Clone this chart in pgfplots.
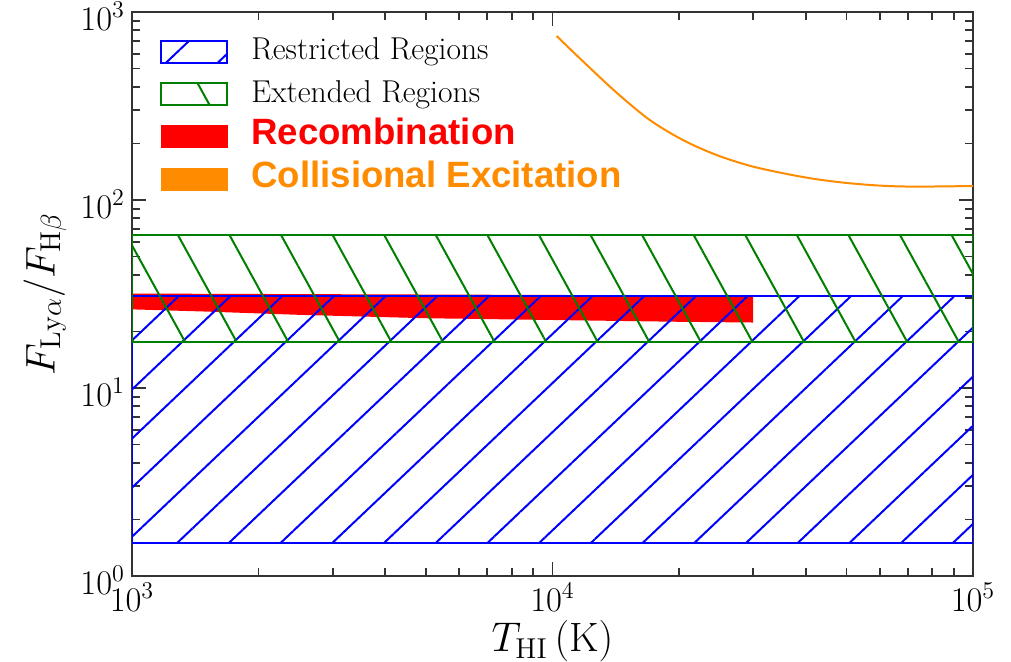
\documentclass[border=0pt]{standalone}
\usepackage{fontspec}
\newfontfamily\arialfont{Liberation Sans}
\usepackage{pgfplots}
\pgfplotsset{compat=1.18}
\usetikzlibrary{patterns.meta}
\definecolor{mplblue}{rgb}{0,0,1}
\definecolor{mplgreen}{rgb}{0,0.5,0}
\definecolor{orng}{rgb}{1,0.549,0}
\tikzset{
  bluehatch/.style={pattern={Lines[angle=43.5, distance=17.8pt, line width=1pt]}, pattern color=mplblue},
  greenhatch/.style={pattern={Lines[angle=118.8, distance=22.6pt, line width=1pt]}, pattern color=mplgreen},
}
\begin{document}
\begin{tikzpicture}
\useasboundingbox (-66pt,-43pt) rectangle (439.5pt,288pt);
\begin{axis}[
  at={(0,0)}, anchor=south west, scale only axis,
  width=420.5pt, height=282pt,
  xmode=log, ymode=log,
  xmin=1e3, xmax=1e5, ymin=1, ymax=1e3,
  axis line style={line width=1pt, black!80},
  major tick length=7pt, minor tick length=4pt,
  every tick/.style={black!80, line width=0.9pt},
  tick label style={font=\fontsize{18}{20}\selectfont},
  yticklabel style={yshift=-2pt},
  label style={font=\fontsize{20.5}{24}\selectfont},
  xlabel={$T_{\mathrm{HI}}\,(\mathrm{K})$},
  xlabel style={yshift=2pt},
  ylabel={$F_{\mathrm{Ly}\alpha}/F_{\mathrm{H}\beta}$},
  legend cell align=left,
  legend style={at={(axis description cs:0.0333,0.962)}, anchor=north west,
    draw=none, fill=none, inner sep=0pt, row sep=3.2pt,
    font=\fontsize{15.8}{18}\selectfont,
    nodes={inner sep=1pt, text height=12pt, text depth=4pt},
    /tikz/every odd column/.append style={column sep=10.5pt}},
  legend image code/.code={\draw[#1] (0pt,-5.5pt) rectangle (33pt,5.5pt);},
]
\addlegendimage{draw=mplblue, line width=1pt, bluehatch}
\addlegendentry{Restricted Regions}
\addlegendimage{draw=mplgreen, line width=1pt, greenhatch}
\addlegendentry{Extended Regions}
\addlegendimage{legend image code/.code={\fill[red] (0pt,-5.5pt) rectangle (33pt,5.5pt);}}
\addlegendentry{\textcolor{red}{\fontsize{18.3}{20}\selectfont\arialfont\bfseries Recombination}}
\addlegendimage{legend image code/.code={\fill[orng] (0pt,-5.5pt) rectangle (33pt,5.5pt);}}
\addlegendentry{\textcolor{orng}{\fontsize{18.3}{20}\selectfont\arialfont\bfseries Collisional Excitation}}

\addplot[forget plot, fill=red, draw=none] coordinates {
 (1000,31.8) (30000,31.0) (30000,22.3) (20000,22.5) (10000,23.0) (5000,23.5) (2500,24.5) (1500,25.5) (1000,26.2)} --cycle;
\addplot[forget plot, draw=mplblue, line width=1pt, bluehatch] coordinates {
 (1000,1.5) (100000,1.5) (100000,31) (1000,31)} --cycle;
\addplot[forget plot, draw=mplgreen, line width=1pt, greenhatch] coordinates {
 (1000,17.6) (100000,17.6) (100000,65) (1000,65)} --cycle;
\addplot[forget plot, orng, line width=1pt, smooth, tension=0.5] coordinates {
 (10230,745) (11840,544) (14210,372) (17050,266) (20460,208) (24550,173.5) (29490,152) (35400,138.7) (42500,128.9) (51000,122.7) (61200,119) (73500,117.8) (100000,118.7)};
\end{axis}
\end{tikzpicture}
\end{document}
